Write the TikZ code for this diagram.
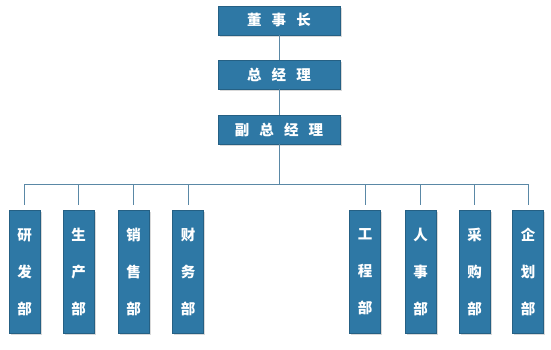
\documentclass[tikz,border=0pt]{standalone}
\usepackage{fontspec}
\newfontfamily\cjk{Noto Sans CJK SC}
\usetikzlibrary{shadows}
\definecolor{boxblue}{HTML}{2E78A5}
\definecolor{linecol}{HTML}{5A88A6}
\tikzset{
  box/.style={draw=boxblue!80!black, line width=0.4pt, fill=boxblue, text=white,
    font=\cjk\bfseries\fontsize{14.5}{16}\selectfont, inner sep=0pt,
    drop shadow={shadow xshift=1.5pt, shadow yshift=-1.5pt, fill=black!25, opacity=0.6}},
  topbox/.style={box, minimum width=122pt, minimum height=29pt},
  dept/.style={box, minimum width=31pt, minimum height=123pt, align=center,
    font=\cjk\bfseries\fontsize{14.5}{37}\selectfont},
  conn/.style={draw=linecol, line width=1pt},
}
\begin{document}
\begin{tikzpicture}[x=1pt, y=-1pt]
\useasboundingbox (0,0) rectangle (551,349);
\node[topbox] (ceo) at (279,20.5) {董\hspace{0.7em}事\hspace{0.7em}长};
\node[topbox] (gm) at (279,74.5) {总\hspace{0.7em}经\hspace{0.7em}理};
\node[topbox] (vgm) at (279,129.5) {副\hspace{0.7em}总\hspace{0.7em}经\hspace{0.7em}理};
\foreach \n/\x/\t in {d1/24.5/研\\发\\部, d2/78.5/生\\产\\部, d3/133.5/销\\售\\部, d4/188/财\\务\\部,
  d5/365/工\\程\\部, d6/420.5/人\\事\\部, d7/474.5/采\\购\\部, d8/528/企\\划\\部}{
  \node[dept] (\n) at (\x,272) {\t};
}
\coordinate (bus) at (279,184);
\draw[conn] (ceo) -- (gm);
\draw[conn] (gm) -- (vgm);
\draw[conn] (vgm.south) -- (bus);
\draw[conn] (d1.north |- bus) -- (d8.north |- bus);
\foreach \n in {d1,d2,d3,d4,d5,d6,d7,d8}{
  \draw[conn, shorten >=5pt] (\n.north |- bus) -- (\n.north);
}
\end{tikzpicture}
\end{document}
